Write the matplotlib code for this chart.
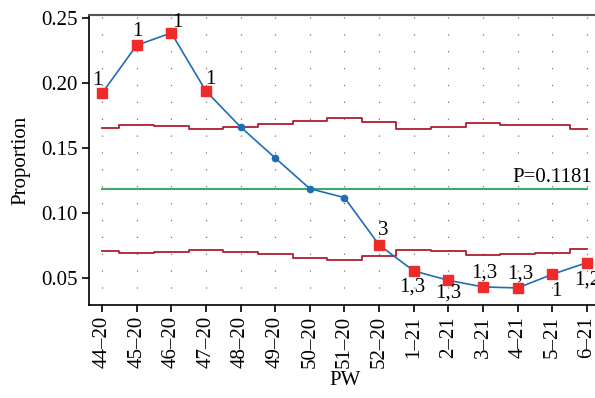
import numpy as np
import matplotlib
matplotlib.use('Agg')
import matplotlib.pyplot as plt

plt.rcParams['font.family'] = ['Liberation Serif', 'DejaVu Serif']

# data
weeks = ['44–20', '45–20', '46–20', '47–20', '48–20', '49–20', '50–20', '51–20',
         '52–20', '1–21', '2–21', '3–21', '4–21', '5–21', '6–21']
prop = [0.1921, 0.2290, 0.2385, 0.1938, 0.1662, 0.1423, 0.1187, 0.1118,
        0.0754, 0.0554, 0.0482, 0.0431, 0.0423, 0.0528, 0.0618]
ucl = [0.1656, 0.1677, 0.1672, 0.1649, 0.1664, 0.1687, 0.1710, 0.1733,
       0.1702, 0.1649, 0.1662, 0.1692, 0.1679, 0.1679, 0.1646]
lcl = [0.0708, 0.0692, 0.0700, 0.0718, 0.0702, 0.0685, 0.0656, 0.0636,
       0.0667, 0.0715, 0.0708, 0.0675, 0.0685, 0.0695, 0.0723]
p_bar = 0.1181
# tests failed per point ('' = in control)
flags = ['1', '1', '1', '1', '', '', '', '', '3', '1,3', '1,3', '1,3', '1,3', '1', '1,2']
# label offsets in pixels
offs = [(-5, 13), (1, 14), (6, 10), (4, 12), None, None, None, None,
        (4, 14), (-1, -16), (0, -13), (1, 14), (3, 14), (4, -17), (0, -17)]

x = np.arange(len(weeks))

fig = plt.figure(figsize=(5.95, 3.98), dpi=100)
ax = fig.add_axes([0.1496, 0.2337, 0.859, 0.7286])

# vertical dotted grid
for xi in x:
    ax.axvline(xi, color='#777777', lw=0.9, ls=(0, (1, 12.5)), zorder=0)

ax.step(x, ucl, where='mid', color='#b01e2c', lw=1.3, zorder=2)
ax.step(x, lcl, where='mid', color='#b01e2c', lw=1.3, zorder=2)
ax.plot([x[0], x[-1]], [p_bar, p_bar], color='#3daa6a', lw=1.5, zorder=2)
ax.text(x[-1] + 0.15, p_bar + 0.002, 'P=0.1181', ha='right', va='bottom', fontsize=15)

ax.plot(x, prop, color='#1f6db5', lw=1.2, zorder=3)
for xi, yi, f, o in zip(x, prop, flags, offs):
    if f:
        ax.plot(xi, yi, marker='s', ms=6.5, color='#ee2a2a', mec='#ee2a2a', zorder=4)
        ax.annotate(f, (xi, yi), xytext=o, textcoords='offset pixels',
                    ha='center', va='center', fontsize=15, zorder=5)
    else:
        ax.plot(xi, yi, marker='o', ms=4.5, color='#1f6db5', zorder=4)

ax.set_xlim(-0.375, 14.38)
ax.set_ylim(0.0292, 0.2523)
ax.set_xticks(x)
ax.set_xticklabels(weeks, rotation=90, fontsize=15)
ax.set_yticks([0.05, 0.10, 0.15, 0.20, 0.25])
ax.set_yticklabels(['0.05', '0.10', '0.15', '0.20', '0.25'], fontsize=15)
ax.tick_params(direction='out', length=5, width=1.2, color='black', pad=3)
ax.set_xlabel('PW', fontsize=15, labelpad=2)
ax.set_ylabel('Proportion', fontsize=15, labelpad=8)

ax.spines['right'].set_visible(False)
ax.spines['top'].set_color('#555555')
ax.spines['top'].set_linewidth(1.5)
ax.spines['left'].set_linewidth(1.2)
ax.spines['bottom'].set_linewidth(1.2)

fig.savefig('out.png', dpi=100)
